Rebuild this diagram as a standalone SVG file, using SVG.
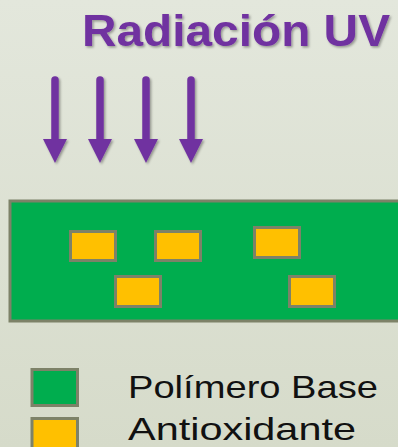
<svg xmlns="http://www.w3.org/2000/svg" width="398" height="447" viewBox="0 0 398 447">
<defs>
<linearGradient id="bg" x1="0" y1="0" x2="0" y2="1">
<stop offset="0" stop-color="#e3e7dc"/>
<stop offset="1" stop-color="#d6dbca"/>
</linearGradient>
<filter id="sh" x="-10%" y="-10%" width="120%" height="130%">
<feDropShadow dx="1.5" dy="1.5" stdDeviation="1" flood-color="#000" flood-opacity="0.35"/>
</filter>
</defs>
<style>
.arrow line{stroke:#7030a0;stroke-width:7.5;stroke-linecap:round}
.arrow polygon{fill:#7030a0}
.poly{fill:#00ad4e;stroke:#7d8268;stroke-width:3}
.ao{fill:#ffc000;stroke:#7d8268;stroke-width:3}
.lbl{font-family:"Century Gothic","Liberation Sans",Arial,sans-serif;font-size:32px;fill:#111}
</style>
<rect width="398" height="447" fill="url(#bg)"/>
<g id="title">
<text x="82" y="46" font-family="'Century Gothic','Liberation Sans',Arial,sans-serif" font-weight="bold" font-size="45" fill="#7030a0" textLength="308" lengthAdjust="spacingAndGlyphs" filter="url(#sh)">Radiación UV</text>
</g>
<g id="connectors">
<g class="arrow" filter="url(#sh)">
<line x1="55" y1="80" x2="55" y2="142"/><polygon points="43,139 67,139 55,163"/>
<line x1="100" y1="80" x2="100" y2="142"/><polygon points="88,139 112,139 100,163"/>
<line x1="146" y1="80" x2="146" y2="142"/><polygon points="134,139 158,139 146,163"/>
<line x1="191" y1="80" x2="191" y2="142"/><polygon points="179,139 203,139 191,163"/>
</g>
</g>
<g id="polimero">
<rect class="poly" x="10" y="201" width="400" height="120"/>
</g>
<g id="antioxidantes">
<rect class="ao" x="70.5" y="231.5" width="45" height="29"/>
<rect class="ao" x="155.5" y="231.5" width="45" height="29"/>
<rect class="ao" x="254.5" y="227.5" width="45" height="30"/>
<rect class="ao" x="115.5" y="276.5" width="45" height="30"/>
<rect class="ao" x="289.5" y="276.5" width="45" height="30"/>
</g>
<g id="legend-polimero">
<rect class="poly" x="32" y="369.5" width="45.5" height="36" stroke-width="3.5"/>
<text class="lbl" x="128" y="398" textLength="250" lengthAdjust="spacingAndGlyphs">Polímero Base</text>
</g>
<g id="legend-antioxidante">
<rect class="ao" x="32" y="418.5" width="45.5" height="36" stroke-width="3.5"/>
<text class="lbl" x="128" y="440" font-size="31" textLength="228" lengthAdjust="spacingAndGlyphs">Antioxidante</text>
</g>
</svg>
